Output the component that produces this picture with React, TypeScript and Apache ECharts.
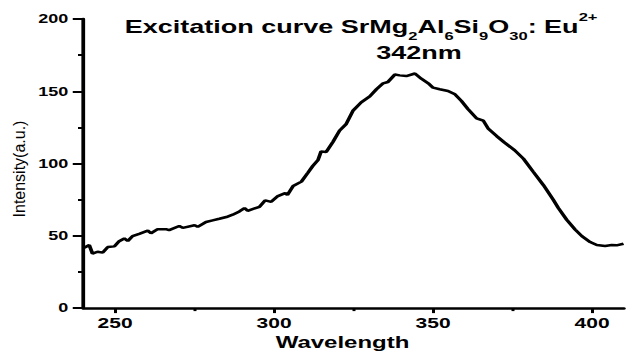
import React, { useEffect, useRef } from 'react';
import * as echarts from 'echarts';

// Excitation spectrum
const wavelength = [
  240.3, 241.9, 242.9, 244.5, 246.1, 247.7, 249.8, 251.3, 252.9, 254.0,
  255.5, 257.6, 260.3, 261.3, 263.4, 266.0, 267.0, 270.2, 271.3, 275.0,
  276.0, 278.6, 280.7, 282.8, 285.0, 287.0, 289.1, 290.7, 291.7, 295.4,
  297.2, 299.1, 301.2, 303.5, 304.2, 306.0, 308.6, 310.7, 312.2, 313.8,
  314.8, 316.4, 318.5, 320.6, 322.7, 324.8, 327.4, 330.1, 332.2, 334.3,
  335.8, 338.0, 339.5, 341.6, 344.3, 346.3, 348.5, 350.0, 352.1, 354.7,
  356.9, 358.9, 361.0, 363.7, 365.8, 367.4, 370.0, 372.5, 375.7, 378.4,
  381.5, 384.7, 387.8, 389.4, 392.0, 394.7, 396.8, 399.4, 401.5, 404.1,
  406.2, 407.7, 409.9,
];
const intensity = [
  41.8, 43.6, 37.7, 39.0, 38.4, 42.2, 42.7, 46.3, 48.2, 46.4,
  49.8, 51.4, 53.6, 51.8, 54.6, 54.6, 53.9, 56.8, 55.5, 57.3,
  56.2, 59.6, 60.7, 61.8, 63.0, 64.6, 66.9, 69.2, 67.3, 70.1,
  74.5, 73.5, 77.5, 79.5, 78.3, 84.5, 87.5, 93.8, 98.4, 102.3,
  108.4, 108.0, 114.9, 122.8, 127.4, 136.5, 142.3, 146.5, 151.4, 155.5,
  156.4, 161.6, 161.0, 160.5, 162.3, 158.7, 155.5, 152.5, 151.4, 150.2,
  147.9, 143.4, 137.7, 131.3, 129.7, 124.0, 119.0, 114.5, 109.1, 103.4,
  94.3, 85.1, 74.9, 69.2, 61.2, 54.3, 49.8, 45.7, 43.6, 42.9,
  43.6, 43.4, 44.5,
];
const xMajorTicks = [250, 300, 350, 400];
const xMinorTicks = [275, 325, 375];
const titleRich =
  '{m|Excitation curve SrMg}{s|2}{m|Al}{s|6}{m|Si}{s|9}{m|O}{s|30}{m|: Eu}{p|2+}';
const peakLabel = '342nm';
const xName = 'Wavelength';
const yName = 'Intensity(a.u.)';

const FONT = '"Liberation Sans", Arial, Helvetica, sans-serif';
const STRETCH = 1.5;
const W = 627 / STRETCH;
const H = 356;

export default function App() {
  const ref = useRef<HTMLDivElement>(null);
  useEffect(() => {
    if (!ref.current) return;
    const chart = echarts.init(ref.current, null, { renderer: 'svg', width: W, height: H });
    chart.setOption({
      animation: false,
      backgroundColor: '#fff',
      title: [
        {
          text: titleRich,
          left: 240.7,
          top: 11.5,
          padding: 0,
          textAlign: 'center',
          textStyle: {
            fontFamily: FONT,
            fontWeight: 'bold',
            fontSize: 18,
            color: '#000',
            rich: {
              m: { fontFamily: FONT, fontWeight: 'bold', fontSize: 18, lineHeight: 30, verticalAlign: 'middle', color: '#000' },
              s: { fontFamily: FONT, fontWeight: 'bold', fontSize: 11, lineHeight: 12, verticalAlign: 'bottom', color: '#000' },
              p: { fontFamily: FONT, fontWeight: 'bold', fontSize: 11, lineHeight: 15.4, verticalAlign: 'top', color: '#000' },
            },
          },
        },
        {
          text: peakLabel,
          left: 279.3,
          top: 43,
          padding: 0,
          textAlign: 'center',
          textStyle: { fontFamily: FONT, fontWeight: 'bold', fontSize: 18, lineHeight: 20, color: '#000' },
        },
      ],
      grid: { left: 55.5, right: 2.1, top: 19, bottom: 44.5, containLabel: false },
      xAxis: [
        {
          type: 'value',
          min: 240,
          max: 410,
          position: 'bottom',
          axisLine: { show: true, onZero: false, lineStyle: { color: '#000', width: 2.5 } },
          axisTick: { show: true, customValues: xMajorTicks, length: 5, lineStyle: { color: '#000', width: 2 } },
          axisLabel: { customValues: xMajorTicks, margin: 8, color: '#000', fontSize: 14, fontWeight: 'bold', fontFamily: FONT },
          splitLine: { show: false },
          name: xName,
          nameLocation: 'middle',
          nameGap: 24,
          nameTextStyle: { color: '#000', fontSize: 16, fontWeight: 'bold', fontFamily: FONT, padding: [0, 14.7, 0, 0] },
        },
        {
          type: 'value',
          min: 240,
          max: 410,
          position: 'bottom',
          axisLine: { show: true, onZero: false, lineStyle: { color: '#000', width: 0, opacity: 0 } },
          axisTick: { show: true, customValues: xMinorTicks, length: 3, lineStyle: { color: '#000', width: 2 } },
          axisLabel: { show: false },
          splitLine: { show: false },
        },
      ],
      yAxis: {
        type: 'value',
        min: 0,
        max: 200,
        interval: 50,
        axisLine: { show: true, onZero: false, lineStyle: { color: '#000', width: 2.5 } },
        axisTick: { show: true, length: 7, lineStyle: { color: '#000', width: 2 } },
        minorTick: { show: true, splitNumber: 2, length: 3.5, lineStyle: { color: '#000', width: 2 } },
        axisLabel: { margin: 10, color: '#000', fontSize: 12, fontWeight: 'bold', fontFamily: FONT },
        splitLine: { show: false },
        minorSplitLine: { show: false },
      },
      graphic: [
        {
          type: 'text',
          x: 12.7,
          y: 169,
          rotation: Math.PI / 2,
          scaleY: 1 / STRETCH,
          style: {
            text: yName,
            fontFamily: FONT,
            fontSize: 16,
            fill: '#000',
            align: 'center',
            verticalAlign: 'middle',
          },
        },
      ],
      series: [
        {
          type: 'line',
          xAxisIndex: 0,
          yAxisIndex: 0,
          data: wavelength.map((w, i) => [w, intensity[i]]),
          showSymbol: false,
          symbol: 'none',
          smooth: false,
          lineStyle: { color: '#000', width: 2.5 },
        },
      ],
    });
    return () => chart.dispose();
  }, []);
  return (
    <div
      ref={ref}
      style={{
        position: 'fixed',
        left: 0,
        top: 0,
        width: W,
        height: H,
        transform: `scaleX(${STRETCH})`,
        transformOrigin: '0 0',
      }}
    />
  );
}
